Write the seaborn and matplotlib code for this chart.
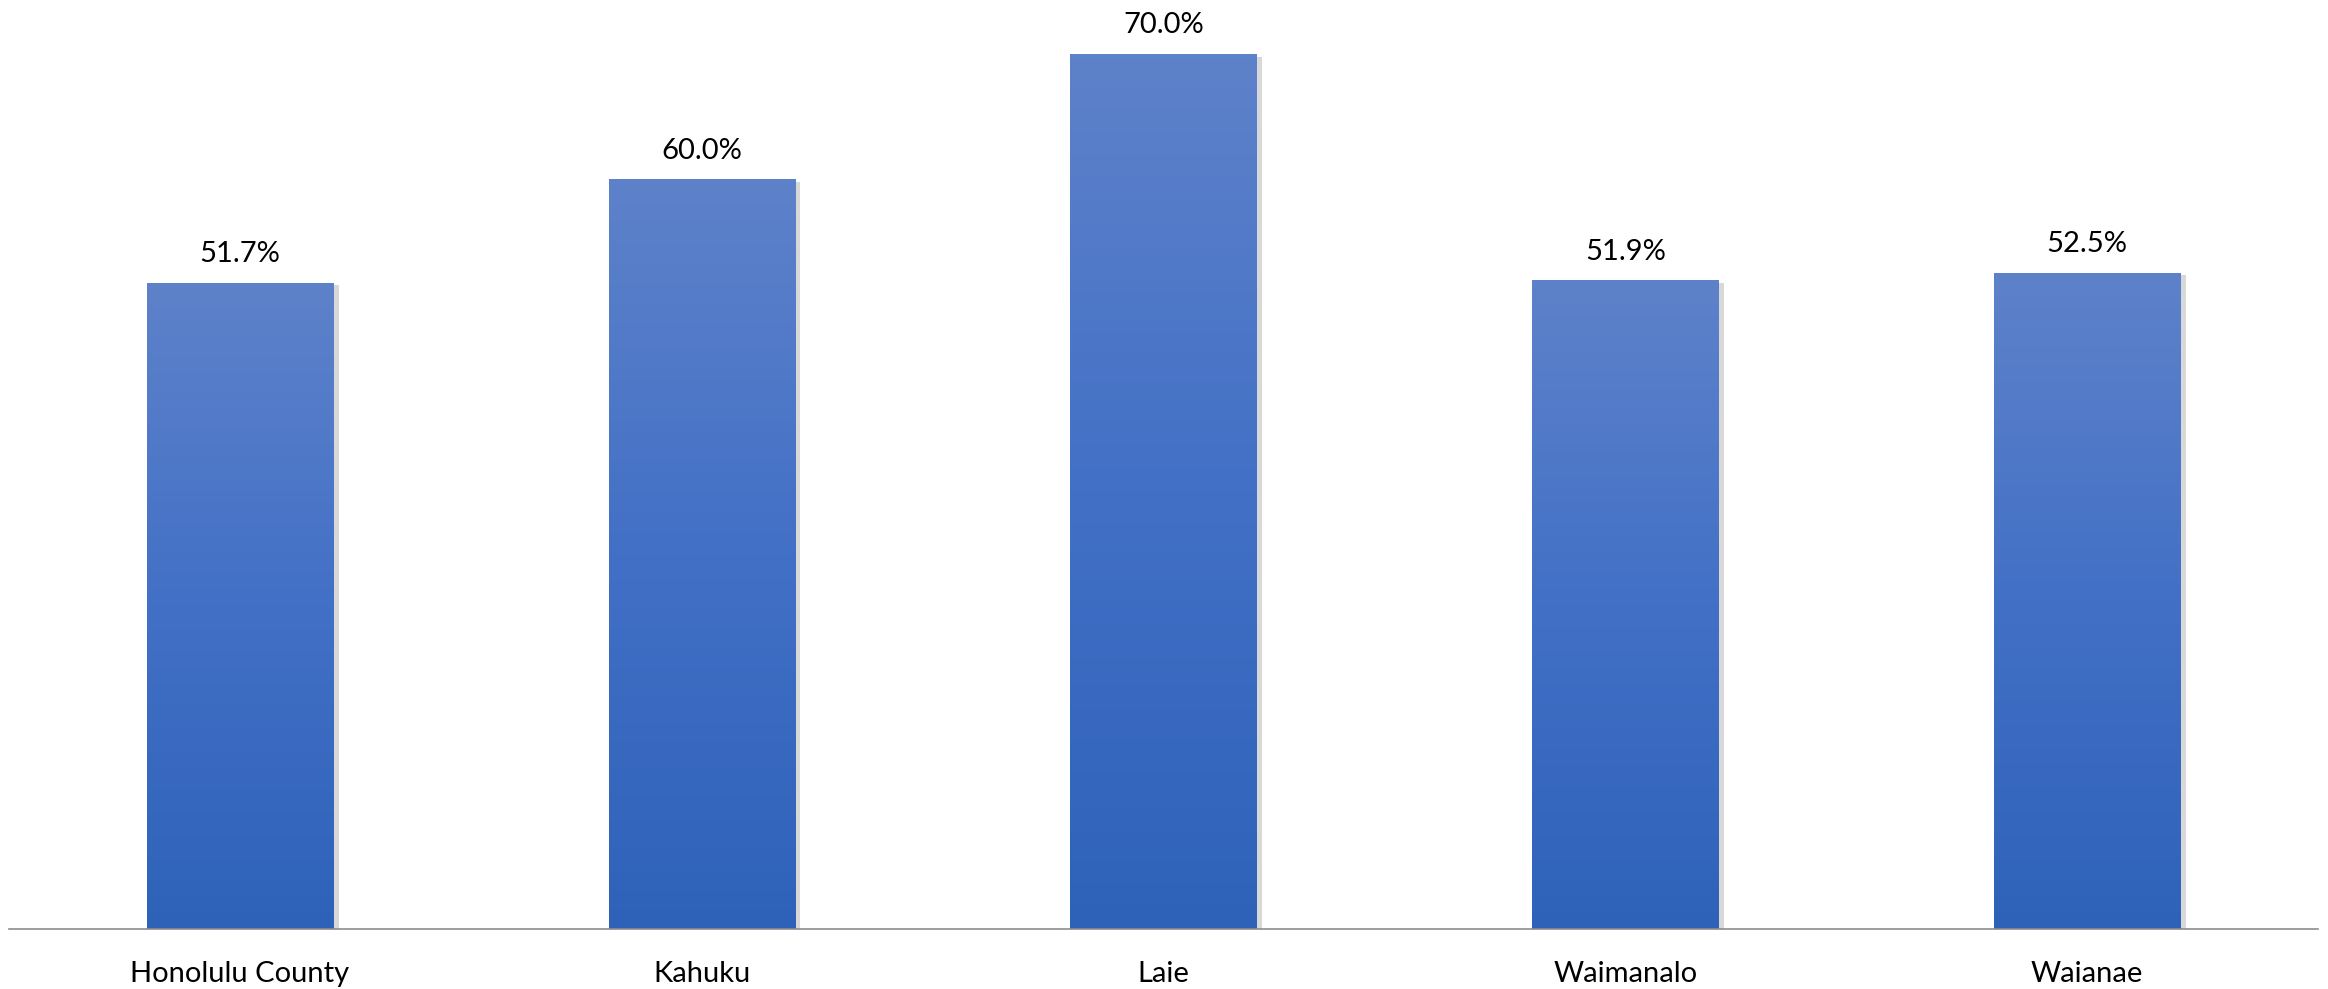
import numpy as np
import pandas as pd
import matplotlib
matplotlib.use('Agg')
import matplotlib.pyplot as plt
import matplotlib.patheffects as pe
from matplotlib.colors import LinearSegmentedColormap
import seaborn as sns

# Chart data
areas = ['Honolulu County', 'Kahuku', 'Laie', 'Waimanalo', 'Waianae']
shares = [51.7, 60.0, 70.0, 51.9, 52.5]

sns.set_style('white')
plt.rcParams['font.family'] = ['Lato', 'DejaVu Sans']

df = pd.DataFrame({'area': areas, 'share': shares})

fig = plt.figure(figsize=(23.28, 9.89), dpi=100)
ax = fig.add_axes([9 / 2328, 60 / 989, 2309 / 2328, 929 / 989])

sns.barplot(data=df, x='area', y='share', color='#4270C6', width=0.403,
            saturation=1, ax=ax)

# gradient fill per bar (light on top, dark at bottom), with soft shadow
grad = LinearSegmentedColormap.from_list('bar', ['#2E62B9', '#4270C6', '#5E82CA'])
g = np.linspace(0, 1, 256).reshape(-1, 1)
for p in ax.patches:
    x0, y0 = p.get_x(), p.get_y()
    w, h = p.get_width(), p.get_height()
    p.set_facecolor('#BFBFBF')
    p.set_edgecolor('none')
    p.set_path_effects([pe.SimplePatchShadow(offset=(4, -2), shadow_rgbFace='#7F7F7F', alpha=0.3),
                        pe.Normal()])
    im = ax.imshow(g, cmap=grad, origin='lower', aspect='auto',
                   extent=(x0, x0 + w, y0, y0 + h), zorder=p.get_zorder() + 0.5,
                   interpolation='bilinear')
    im.set_clip_path(p)
ax.set_xlim(-0.5, 4.5)
ax.set_ylim(0, 74.3)

ax.bar_label(ax.containers[0], labels=[f'{v:.1f}%' for v in shares],
             padding=11, fontsize=21, color='#000000', zorder=5)

sns.despine(ax=ax, left=True)
ax.spines['bottom'].set_color('#8C8C8C')
ax.spines['bottom'].set_linewidth(1.2)
ax.spines['bottom'].set_zorder(6)
ax.set_yticks([])
ax.set_xlabel('')
ax.set_ylabel('')
ax.tick_params(axis='x', length=0, pad=23, labelsize=21, labelcolor='#000000')

fig.savefig('out.png', dpi=100, facecolor='white')
